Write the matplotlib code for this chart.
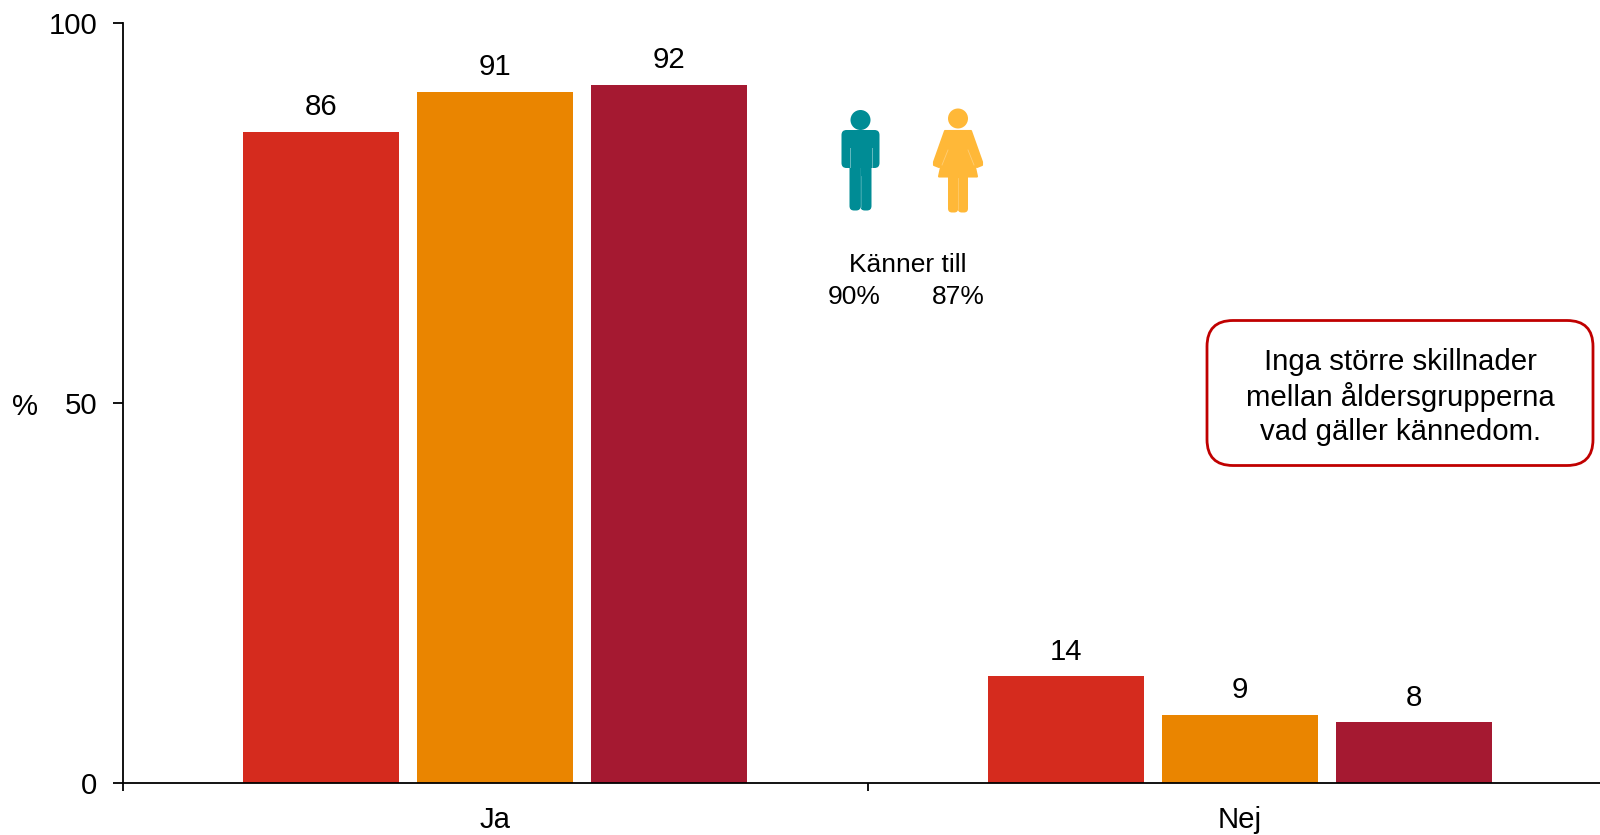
import matplotlib
matplotlib.use("Agg")
import matplotlib.pyplot as plt
import numpy as np
from matplotlib.patches import Circle, FancyBboxPatch, Polygon

categories = ["Ja", "Nej"]
series_a = [85.6, 14.0]
series_b = [90.9, 8.9]
series_c = [91.8, 7.9]
y_ticks = [0, 50, 100]

RED = "#D52B1E"
ORANGE = "#EA8500"
DARK_RED = "#A51931"
TEAL = "#008C95"
YELLOW = "#FFB838"

plt.rcParams["font.family"] = ["Liberation Sans", "DejaVu Sans"]
FS = 21.2
FS_NOTE = 19

W, H = 1600, 835
fig = plt.figure(figsize=(W / 100, H / 100), dpi=100)
left, right, top, bottom = 122.5, 1600, 22.5, 782.5
ax = fig.add_axes([left / W, 1 - bottom / H, (right - left) / W, (bottom - top) / H])

x = np.arange(len(categories))
width = 0.21
step = 0.2338
for offset, vals, col in [(-step, series_a, RED), (0, series_b, ORANGE), (step, series_c, DARK_RED)]:
    bars = ax.bar(x + offset, vals, width, color=col, zorder=2)
    for b, v in zip(bars, vals):
        ax.annotate(str(round(v)), (b.get_x() + b.get_width() / 2, v), xytext=(0, 7.6),
                    textcoords="offset points", ha="center", va="bottom",
                    fontsize=FS, color="black", clip_on=False)

ax.set_xlim(-0.5, -0.5 + (right - left) / 745)
ax.set_ylim(0, 100)
ax.set_yticks(y_ticks)
ax.set_xticks([-0.5, 0.5])
ax.set_xticklabels([])
ax.tick_params(axis="y", labelsize=FS, length=7, width=1.3, pad=11)
ax.tick_params(axis="x", length=6, width=1.3)
for s in ["top", "right"]:
    ax.spines[s].set_visible(False)
for s in ["left", "bottom"]:
    ax.spines[s].set_linewidth(1.3)
ax.spines["bottom"].set_zorder(3)

# category labels sit under the axis, between the ticks
for xi, lab in zip(x, categories):
    ax.annotate(lab, (xi, 0), xytext=(0, -17), textcoords="offset points",
                ha="center", va="top", fontsize=FS)

# overlay in pixel coordinates for the icons and notes
ov = fig.add_axes([0, 0, 1, 1], facecolor="none")
ov.set_xlim(0, W)
ov.set_ylim(H, 0)
ov.axis("off")

ov.text(25, 407, "%", fontsize=FS, ha="center", va="center")


def rounded(x0, y0, w, h, r, col):
    ov.add_patch(FancyBboxPatch((x0, y0), w, h, boxstyle=f"round,pad=0,rounding_size={r}",
                                color=col, lw=0))


def man(cx, col):
    ov.add_patch(Circle((cx, 120), 10, color=col, lw=0))
    rounded(cx - 19, 130, 38, 38, 5, col)
    rounded(cx - 11, 150, 11.2, 60.5, 4.5, col)
    rounded(cx - 0.2, 150, 11.2, 60.5, 4.5, col)
    # faint seams between arms, body and legs
    ov.plot([cx - 11, cx - 11], [148, 167], color="white", lw=0.7, alpha=0.4)
    ov.plot([cx + 11, cx + 11], [148, 167], color="white", lw=0.7, alpha=0.4)
    ov.plot([cx, cx], [176, 207], color="white", lw=0.6, alpha=0.25)


def woman(cx, col):
    ov.add_patch(Circle((cx, 118.5), 10, color=col, lw=0))
    ov.add_patch(Polygon([(cx - 13, 131), (cx + 13, 131), (cx + 24, 162), (cx + 24, 165),
                          (cx + 19, 167), (cx + 16.5, 165), (cx + 19, 176.5), (cx - 19, 176.5),
                          (cx - 16.5, 165), (cx - 19, 167), (cx - 24, 165), (cx - 24, 162)],
                         closed=True, color=col, lw=1.5, joinstyle="round"))
    rounded(cx - 10, 170, 10.2, 42.5, 4, col)
    rounded(cx - 0.2, 170, 10.2, 42.5, 4, col)
    ov.plot([cx - 10, cx - 16], [150, 165], color="white", lw=0.6, alpha=0.3)
    ov.plot([cx + 10, cx + 16], [150, 165], color="white", lw=0.6, alpha=0.3)
    ov.plot([cx, cx], [178, 209], color="white", lw=0.6, alpha=0.25)


man(860.5, TEAL)
woman(958, YELLOW)

ov.text(908, 265, "Känner till", fontsize=FS_NOTE, ha="center", va="center")
ov.text(854, 297, "90%", fontsize=FS_NOTE, ha="center", va="center")
ov.text(958, 297, "87%", fontsize=FS_NOTE, ha="center", va="center")

ov.add_patch(FancyBboxPatch((1207, 320.5), 386, 145, boxstyle="round,pad=0,rounding_size=26",
                            fc="white", ec="#C00000", lw=2))
for yy, line in zip([362, 396.5, 432], ["Inga större skillnader", "mellan åldersgrupperna",
                                        "vad gäller kännedom."]):
    ov.text(1400, yy, line, fontsize=FS, ha="center", va="center")

fig.savefig("out.png", dpi=100)
